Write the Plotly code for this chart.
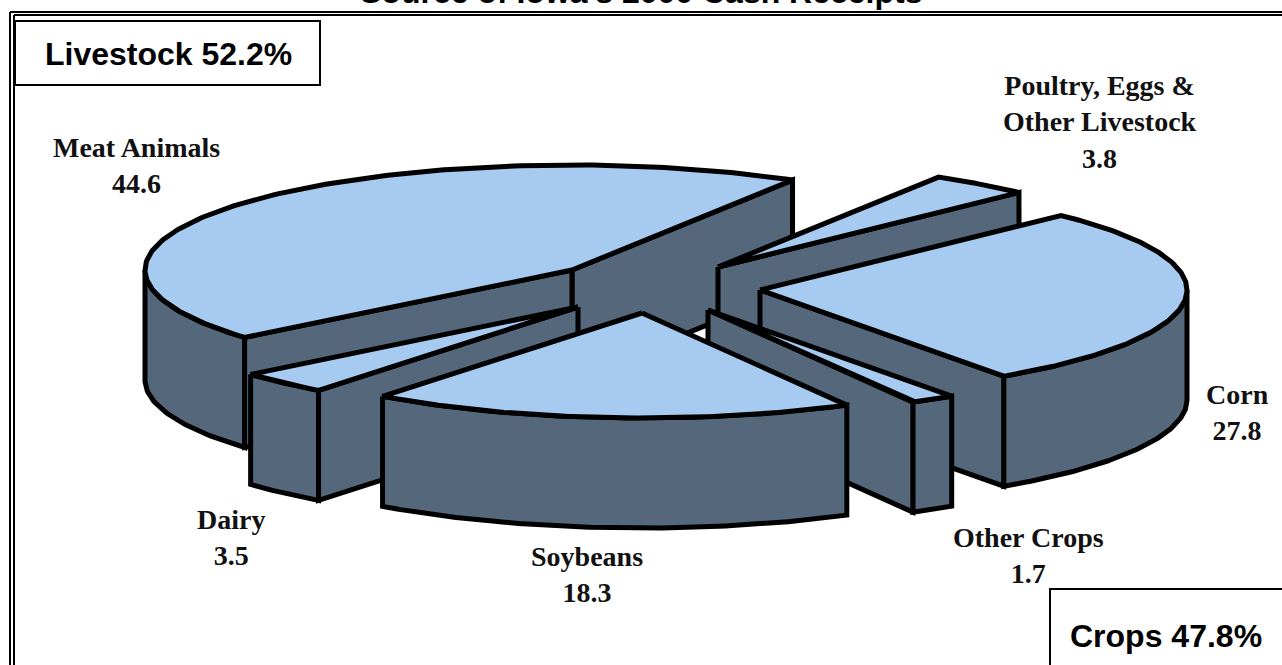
import numpy as np
import plotly.graph_objects as go

# slices, counter-clockwise starting at the front edge of Corn
categories = ['Corn', 'Poultry, Eggs &<br>Other Livestock', 'Meat Animals', 'Dairy', 'Soybeans', 'Other Crops']
values = [27.8, 3.8, 44.6, 3.5, 18.3, 1.7]
group_names = ['Livestock', 'Crops']
group_shares = [52.2, 47.8]
title = "Source of Iowa's 2000 Cash Receipts"

# pixel geometry of the tilted pie
a = 427
b = 105
depth = 110
start_angle = 304.8
slice_apex_x = [760, 718, 572, 578, 642, 708]
slice_apex_y = [290, 267, 270, 307, 313, 310]
label_x = [1237, 1100, 136, 231, 587, 1028]
label_y = [412, 122, 165, 537, 574, 555]
draw_order = [2, 1, 0, 3, 5, 4]

top_color = '#A6CAF0'
wall_color = '#54677B'
line_width = 5

fig = go.Figure()


def add_poly(xs, ys, color):
    fig.add_trace(go.Scatter(x=list(xs) + [xs[0]], y=list(ys) + [ys[0]], mode='lines', fill='toself',
                             fillcolor=color, hoverinfo='skip',
                             line=dict(color='black', width=line_width)))


sweep = np.array(values) / sum(values) * 360
starts = start_angle + np.concatenate([[0], np.cumsum(sweep)[:-1]])

for i in draw_order:
    cx, cy = slice_apex_x[i], slice_apex_y[i]
    t = np.radians(np.linspace(starts[i], starts[i] + sweep[i], 200))
    arc_x = cx + a * np.cos(t)
    arc_y = cy - b * np.sin(t)

    # curved outer wall, front part only
    front = np.sin(t) <= 0
    if front.any():
        wx, wy = arc_x[front], arc_y[front]
        add_poly(np.concatenate([wx, wx[::-1]]), np.concatenate([wy, wy[::-1] + depth]), wall_color)

    # flat cut faces that look towards the viewer
    if np.cos(t[0]) > 0:
        add_poly([cx, arc_x[0], arc_x[0], cx], [cy, arc_y[0], arc_y[0] + depth, cy + depth], wall_color)
    if np.cos(t[-1]) < 0:
        add_poly([cx, arc_x[-1], arc_x[-1], cx], [cy, arc_y[-1], arc_y[-1] + depth, cy + depth], wall_color)

    add_poly(np.concatenate([[cx], arc_x]), np.concatenate([[cy], arc_y]), top_color)

# slice labels
for name, val, lx, ly in zip(categories, values, label_x, label_y):
    fig.add_annotation(x=lx, y=ly, text=f'<b>{name}<br>{val}</b>', showarrow=False,
                       font=dict(family='Liberation Serif', size=28, color='#111111'))

# double frame
frame = dict(type='line', line=dict(color='black', width=2))
for y in [12, 15]:
    fig.add_shape(x0=10 if y == 12 else 14, x1=1282, y0=y, y1=y, **frame)
for x in [10, 14]:
    fig.add_shape(x0=x, x1=x, y0=12 if x == 10 else 15, y1=665, **frame)

# group boxes
fig.add_shape(type='rect', x0=15, x1=320, y0=21, y1=85, line=dict(color='black', width=2), fillcolor='white')
fig.add_shape(type='rect', x0=1050, x1=1290, y0=589, y1=680, line=dict(color='black', width=2), fillcolor='white')
fig.add_annotation(x=168, y=54, text=f'<b>{group_names[0]} {group_shares[0]}%</b>', showarrow=False,
                   font=dict(family='Liberation Sans', size=32, color='black'))
fig.add_annotation(x=1166, y=636, text=f'<b>{group_names[1]} {group_shares[1]}%</b>', showarrow=False,
                   font=dict(family='Liberation Sans', size=32, color='black'))

# title runs off the top of the page, as in the source picture
fig.add_annotation(xref='x', x=641, yref='paper', y=1, yanchor='middle', yshift=8, text=f'<b>{title}</b>',
                   showarrow=False, font=dict(family='Liberation Sans', size=32, color='black'))

fig.update_layout(
    autosize=False,
    width=1282,
    height=665,
    showlegend=False,
    margin=dict(l=0, r=0, t=0, b=0),
    paper_bgcolor='white',
    plot_bgcolor='white',
)
fig.update_xaxes(range=[0, 1282], visible=False)
fig.update_yaxes(range=[665, 0], visible=False)

fig.write_html('out.html', config=dict(displayModeBar=False),
               post_script="document.body.style.margin='0';document.body.style.overflow='hidden';")
